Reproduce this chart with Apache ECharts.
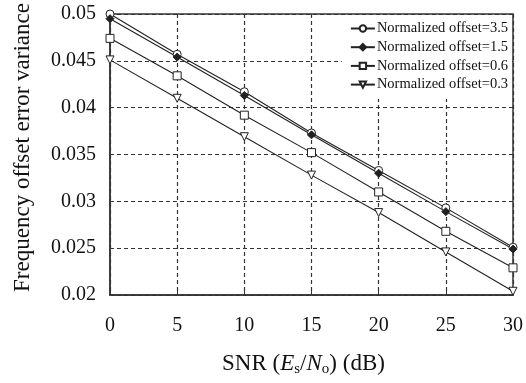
<!DOCTYPE html>
<html>
<head>
<meta charset="utf-8">
<script src="https://cdn.jsdelivr.net/npm/echarts@6/dist/echarts.min.js"></script>
<style>
  html, body { margin: 0; padding: 0; background: #fff; }
  #chart { width: 526px; height: 383px; }
</style>
</head>
<body>
<div id="chart"></div>
<script>
// SNR 取值
var snr = [0, 5, 10, 15, 20, 25, 30];
// 各归一化频偏下的误差方差
var off35 = [0.0500, 0.0457, 0.0417, 0.0373, 0.0333, 0.0293, 0.0251];
var off15 = [0.0495, 0.0454, 0.0413, 0.0371, 0.0330, 0.0289, 0.0249];
var off06 = [0.0474, 0.0434, 0.0392, 0.0352, 0.0310, 0.0268, 0.0229];
var off03 = [0.0451, 0.0410, 0.0369, 0.0328, 0.0288, 0.0246, 0.0204];
var names = ['Normalized offset=3.5', 'Normalized offset=1.5', 'Normalized offset=0.6', 'Normalized offset=0.3'];

var serif = '"Liberation Serif", "Times New Roman", serif';
var ink = '#222';

function pairs(ys) {
  return snr.map(function (x, i) { return [x, ys[i]]; });
}

function mkSeries(name, ys, symbol, filled, rotate) {
  return {
    name: name,
    type: 'line',
    data: pairs(ys),
    symbol: symbol,
    symbolSize: 8,
    symbolRotate: rotate || 0,
    showSymbol: true,
    lineStyle: { color: ink, width: 1.1 },
    itemStyle: { color: filled ? ink : '#fff', borderColor: ink, borderWidth: 1 },
    z: 5
  };
}

var chart = echarts.init(document.getElementById('chart'));
chart.setOption({
  animation: false,
  backgroundColor: '#fff',
  grid: {
    left: 110, right: 13, top: 14, bottom: 88,
    show: true, borderColor: '#333', borderWidth: 1.5
  },
  legend: {
    orient: 'vertical',
    right: 14,
    top: 15,
    itemWidth: 24,
    itemHeight: 8,
    itemGap: 3.7,
    padding: [6, 4, 7, 8],
    backgroundColor: '#fff',
    textStyle: { fontFamily: serif, fontSize: 14.5, lineHeight: 14, color: '#111', padding: [0, 0, 0, -3] },
    data: names
  },
  xAxis: {
    type: 'value',
    min: 0, max: 30, interval: 5,
    name: '{n|SNR (}{i|E}{s|s}{n|/}{i|N}{s|o}{n|) (dB)}',
    nameLocation: 'middle',
    nameGap: 56,
    nameTextStyle: {
      padding: [0, 16, 0, 0],
      rich: {
        n: { fontFamily: serif, fontSize: 23, color: '#111', lineHeight: 26 },
        i: { fontFamily: serif, fontSize: 23, fontStyle: 'italic', color: '#111', lineHeight: 26 },
        s: { fontFamily: serif, fontSize: 15, color: '#111', lineHeight: 15, verticalAlign: 'bottom', padding: [9, 0, 0, 0] }
      }
    },
    axisLine: { lineStyle: { color: '#333', width: 1.5 } },
    axisTick: { inside: true, length: 4, lineStyle: { color: '#333' } },
    axisLabel: { margin: 21, fontFamily: serif, fontSize: 20, color: '#111' },
    splitLine: { show: true, lineStyle: { color: '#333', type: [4, 3], width: 1.2 } }
  },
  yAxis: {
    type: 'value',
    min: 0.02, max: 0.05, interval: 0.005,
    name: 'Frequency offset error variance',
    nameLocation: 'middle',
    nameGap: 76,
    nameTextStyle: { fontFamily: serif, fontSize: 23, color: '#111', padding: [0, 0, 0, 14] },
    axisLine: { lineStyle: { color: '#333', width: 1.5 } },
    axisTick: { inside: true, length: 4, lineStyle: { color: '#333' } },
    axisLabel: {
      margin: 14, fontFamily: serif, fontSize: 20, color: '#111',
      formatter: function (v) { return String(+v.toFixed(3)); }
    },
    splitLine: { show: true, lineStyle: { color: '#333', type: [4, 3], width: 1.2 } }
  },
  series: [
    mkSeries(names[0], off35, 'circle', false),
    mkSeries(names[1], off15, 'diamond', true),
    mkSeries(names[2], off06, 'rect', false),
    mkSeries(names[3], off03, 'triangle', false, 180)
  ]
});
</script>
</body>
</html>
